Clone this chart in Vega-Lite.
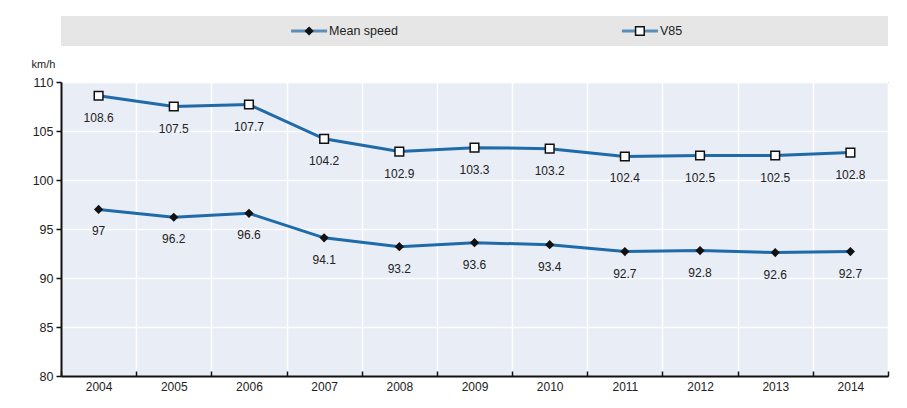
{
  "$schema": "https://vega.github.io/schema/vega-lite/v6.json",
  "padding": {"top": 16, "left": 30, "right": 5, "bottom": 5},
  "background": "white",
  "bounds": "flush",
  "spacing": 36,
  "config": {
    "font": "Liberation Sans Narrow, Liberation Sans, Arial",
    "axis": {"labelFont": "Liberation Sans Narrow, Liberation Sans, Arial", "labelFontSize": 12, "labelColor": "#222"}
  },
  "datasets": {
    "speeds": [
      {"year": "2004", "series": "Mean speed", "value": 97},
      {"year": "2005", "series": "Mean speed", "value": 96.2},
      {"year": "2006", "series": "Mean speed", "value": 96.6},
      {"year": "2007", "series": "Mean speed", "value": 94.1},
      {"year": "2008", "series": "Mean speed", "value": 93.2},
      {"year": "2009", "series": "Mean speed", "value": 93.6},
      {"year": "2010", "series": "Mean speed", "value": 93.4},
      {"year": "2011", "series": "Mean speed", "value": 92.7},
      {"year": "2012", "series": "Mean speed", "value": 92.8},
      {"year": "2013", "series": "Mean speed", "value": 92.6},
      {"year": "2014", "series": "Mean speed", "value": 92.7},
      {"year": "2004", "series": "V85", "value": 108.6},
      {"year": "2005", "series": "V85", "value": 107.5},
      {"year": "2006", "series": "V85", "value": 107.7},
      {"year": "2007", "series": "V85", "value": 104.2},
      {"year": "2008", "series": "V85", "value": 102.9},
      {"year": "2009", "series": "V85", "value": 103.3},
      {"year": "2010", "series": "V85", "value": 103.2},
      {"year": "2011", "series": "V85", "value": 102.4},
      {"year": "2012", "series": "V85", "value": 102.5},
      {"year": "2013", "series": "V85", "value": 102.5},
      {"year": "2014", "series": "V85", "value": 102.8}
    ],
    "keys": [
      {"series": "Mean speed"},
      {"series": "V85"}
    ]
  },
  "vconcat": [
    {
      "width": 827,
      "height": 30,
      "view": {"fill": "#e6e6e6", "stroke": null},
      "data": {"name": "keys"},
      "encoding": {
        "x": {"field": "series", "type": "nominal", "axis": null,
              "scale": {"type": "point", "padding": 0.75}}
      },
      "layer": [
        {"mark": {"type": "tick", "orient": "horizontal", "size": 36, "thickness": 3, "color": "#1f6aa8"}},
        {
          "mark": {"type": "point", "filled": true, "opacity": 1},
          "encoding": {
            "shape": {"field": "series", "type": "nominal", "legend": null,
                      "scale": {"domain": ["Mean speed", "V85"], "range": ["diamond", "square"]}},
            "fill": {"field": "series", "type": "nominal", "legend": null,
                     "scale": {"domain": ["Mean speed", "V85"], "range": ["#111111", "#ffffff"]}},
            "stroke": {"value": "#111111"},
            "strokeWidth": {"field": "series", "type": "nominal", "legend": null,
                            "scale": {"type": "ordinal", "domain": ["Mean speed", "V85"], "range": [0, 1.5]}},
            "size": {"field": "series", "type": "nominal", "legend": null,
                     "scale": {"type": "ordinal", "domain": ["Mean speed", "V85"], "range": [85, 75]}}
          }
        },
        {
          "mark": {"type": "text", "align": "left", "dx": 20, "fontSize": 12.5, "color": "#222"},
          "encoding": {"text": {"field": "series"}}
        }
      ]
    },
    {
      "width": 827,
      "height": 294,
      "view": {"fill": "#e9edf6", "stroke": "#444", "strokeWidth": 1},
      "data": {"name": "speeds"},
      "encoding": {
        "x": {
          "field": "year", "type": "ordinal", "title": null,
          "scale": {"type": "band", "paddingInner": 0, "paddingOuter": 0},
          "axis": {
            "labelAngle": 0, "tickBand": "extent", "grid": true, "gridColor": "#ffffff", "gridWidth": 1.5,
            "domainColor": "#111", "domainWidth": 2, "tickColor": "#111", "tickWidth": 1.5,
            "tickSize": -5, "labelPadding": 10
          }
        },
        "y": {
          "field": "value", "type": "quantitative",
          "scale": {"domain": [80, 110], "nice": false, "zero": false},
          "axis": {
            "values": [80, 85, 90, 95, 100, 105, 110],
            "title": "km/h", "titleAngle": 0, "titleAlign": "left", "titleBaseline": "middle",
            "titleX": -30, "titleY": -18, "titleFontSize": 11, "titleFontWeight": "normal",
            "titleFont": "Liberation Sans Narrow, Liberation Sans, Arial", "titleColor": "#222",
            "grid": true, "gridColor": "#ffffff", "gridWidth": 1.5,
            "domainColor": "#111", "domainWidth": 2, "tickColor": "#111", "tickWidth": 1.5,
            "tickSize": 5, "labelPadding": 3, "labelFontSize": 12.5
          }
        }
      },
      "layer": [
        {
          "mark": {"type": "line", "color": "#1f6aa8", "strokeWidth": 3},
          "encoding": {"detail": {"field": "series"}}
        },
        {
          "mark": {"type": "point", "filled": true, "opacity": 1},
          "encoding": {
            "shape": {"field": "series", "type": "nominal", "legend": null,
                      "scale": {"domain": ["Mean speed", "V85"], "range": ["diamond", "square"]}},
            "fill": {"field": "series", "type": "nominal", "legend": null,
                     "scale": {"domain": ["Mean speed", "V85"], "range": ["#111111", "#ffffff"]}},
            "stroke": {"value": "#111111"},
            "strokeWidth": {"field": "series", "type": "nominal", "legend": null,
                            "scale": {"type": "ordinal", "domain": ["Mean speed", "V85"], "range": [0, 2]}},
            "size": {"field": "series", "type": "nominal", "legend": null,
                     "scale": {"type": "ordinal", "domain": ["Mean speed", "V85"], "range": [110, 100]}}
          }
        },
        {
          "mark": {"type": "text", "dy": 22, "fontSize": 12, "color": "#222"},
          "encoding": {"text": {"field": "value", "type": "quantitative"}}
        }
      ]
    }
  ]
}
